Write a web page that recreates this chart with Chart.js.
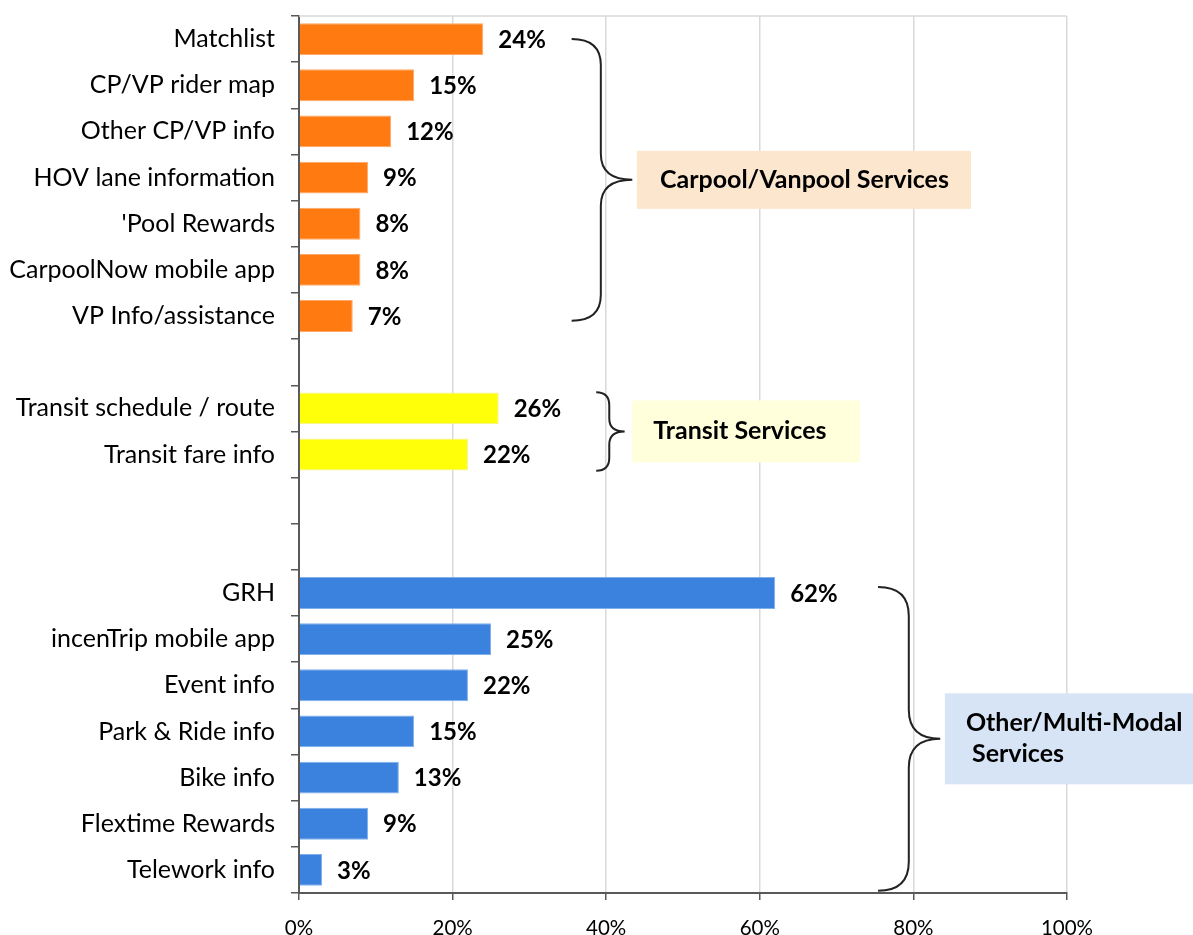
<!DOCTYPE html>
<html lang="en">
<head>
  <meta charset="UTF-8" />
  <title>Services used</title>
  <script src="https://cdn.jsdelivr.net/npm/chart.js@4.4.1/dist/chart.umd.min.js"></script>
  <style>
    body {
      margin: 0;
      background: #fff;
    }
    .chart-wrapper {
      width: 1193px;
      height: 935px;
    }
  </style>
</head>
<body>
  <div class="chart-wrapper">
    <canvas id="barChart" width="1193" height="935"></canvas>
  </div>

<script>
// categories, blanks are spacer rows between groups
const categories = [
  "Matchlist", "CP/VP rider map", "Other CP/VP info", "HOV lane information",
  "'Pool Rewards", "CarpoolNow mobile app", "VP Info/assistance",
  "",
  "Transit schedule / route", "Transit fare info",
  "", "",
  "GRH", "incenTrip mobile app", "Event info", "Park & Ride info",
  "Bike info", "Flextime Rewards", "Telework info"
];
const values = [24, 15, 12, 9, 8, 8, 7, null, 26, 22, null, null, 62, 25, 22, 15, 13, 9, 3];
const groupOf = ['cp','cp','cp','cp','cp','cp','cp', null, 'tr','tr', null, null,
  'mm','mm','mm','mm','mm','mm','mm'];
const xTicks = [0, 20, 40, 60, 80, 100];

const COLORS = { cp: '#FF7B11', tr: '#FFFF0A', mm: '#3A82DE' };
const BORDERS = { cp: '#FFA868', tr: '#F2F29A', mm: '#7FB0EC' };

// group brackets + boxes (x in % units, y by category index)
const groups = [
  { lines: ['Carpool/Vanpool Services'], from: 0, to: 6.1, xEnd: 35.5, xMid: 39.3, xTip: 43.4, r: 26,
    box: [44.0, 87.5], boxH: 58, fill: '#FCE6CD', textPad: 23 },
  { lines: ['Transit Services'], from: 7.65, to: 9.35, xEnd: 38.7, xMid: 40.4, xTip: 42.4, r: 13,
    box: [43.4, 73.0], boxH: 62, fill: '#FFFFDC', textPad: 21 },
  { lines: ['Other/Multi-Modal', ' Services'], from: 11.87, to: 18.45, xEnd: 75.4, xMid: 79.4, xTip: 83.5, r: 29,
    box: [84.1, 117], boxH: 91, fill: '#D7E4F5', textPad: 21 }
];

const FONT = 'Lato, "Open Sans", sans-serif';
Chart.defaults.font.family = FONT;
Chart.defaults.color = '#000';

const valueLabels = {
  id: 'valueLabels',
  afterDatasetsDraw(chart) {
    const ctx = chart.ctx;
    const meta = chart.getDatasetMeta(0);
    ctx.save();
    ctx.font = 'bold 24px ' + FONT;
    ctx.fillStyle = '#000';
    ctx.textBaseline = 'middle';
    ctx.textAlign = 'left';
    meta.data.forEach((bar, i) => {
      if (values[i] == null) return;
      ctx.fillText(values[i] + '%', bar.x + 15, bar.y + 1);
    });
    ctx.restore();
  }
};

const groupBraces = {
  id: 'groupBraces',
  afterDraw(chart) {
    const ctx = chart.ctx;
    const xs = chart.scales.x, ys = chart.scales.y;
    const area = chart.chartArea;
    ctx.save();
    // plot area top border
    ctx.strokeStyle = '#d9d9d9';
    ctx.lineWidth = 1.5;
    ctx.beginPath();
    ctx.moveTo(area.left, area.top);
    ctx.lineTo(area.right, area.top);
    ctx.stroke();

    groups.forEach(g => {
      const y0 = ys.getPixelForValue(g.from);
      const y1 = ys.getPixelForValue(g.to);
      const yt = (y0 + y1) / 2;
      const xe = xs.getPixelForValue(g.xEnd);
      const xm = xs.getPixelForValue(g.xMid);
      const xt = xs.getPixelForValue(g.xTip);
      const r = g.r;
      ctx.strokeStyle = '#222';
      ctx.lineWidth = 2;
      ctx.beginPath();
      ctx.moveTo(xe, y0);
      ctx.quadraticCurveTo(xm, y0, xm, y0 + r);
      ctx.lineTo(xm, yt - r);
      ctx.quadraticCurveTo(xm, yt, xt, yt);
      ctx.quadraticCurveTo(xm, yt, xm, yt + r);
      ctx.lineTo(xm, y1 - r);
      ctx.quadraticCurveTo(xm, y1, xe, y1);
      ctx.stroke();

      const bx0 = xs.getPixelForValue(g.box[0]);
      const bx1 = xs.getPixelForValue(g.box[1]);
      ctx.fillStyle = g.fill;
      ctx.fillRect(bx0, yt - g.boxH / 2, bx1 - bx0, g.boxH);

      ctx.fillStyle = '#000';
      ctx.font = 'bold 25px ' + FONT;
      ctx.textBaseline = 'middle';
      ctx.textAlign = 'left';
      const lh = 31;
      const startY = yt - (g.lines.length - 1) * lh / 2;
      g.lines.forEach((t, k) => ctx.fillText(t, bx0 + g.textPad, startY + k * lh));
    });
    ctx.restore();
  }
};

new Chart(document.getElementById('barChart'), {
  type: 'bar',
  data: {
    labels: categories,
    datasets: [{
      data: values,
      backgroundColor: groupOf.map(g => g ? COLORS[g] : 'transparent'),
      borderColor: groupOf.map(g => g ? BORDERS[g] : 'transparent'),
      borderWidth: 1,
      barPercentage: 0.69,
      categoryPercentage: 1
    }]
  },
  options: {
    indexAxis: 'y',
    responsive: false,
    animation: false,
    layout: { padding: { top: 16, right: 126, left: 0, bottom: 0 } },
    plugins: { legend: { display: false }, tooltip: { enabled: false } },
    scales: {
      x: {
        min: 0,
        max: 100,
        afterFit: s => { s.height = 42; s.paddingLeft = 0; s.paddingRight = 0; },
        afterBuildTicks: s => { s.ticks = xTicks.map(v => ({ value: v })); },
        ticks: { callback: v => v + '%', font: { size: 20.5 }, padding: 16, maxRotation: 0 },
        grid: { color: '#d9d9d9', lineWidth: 1.5, tickColor: '#595959', tickLength: 7 },
        border: { color: '#595959', width: 2 }
      },
      y: {
        afterFit: s => { s.width = 299; s.paddingTop = 0; s.paddingBottom = 0; },
        ticks: { font: { size: 25 }, padding: 16, autoSkip: false },
        grid: { offset: true, drawOnChartArea: false, tickColor: '#595959', tickLength: 8, lineWidth: 1.5 },
        border: { color: '#595959', width: 2 }
      }
    }
  },
  plugins: [valueLabels, groupBraces]
});
</script>
</body>
</html>
